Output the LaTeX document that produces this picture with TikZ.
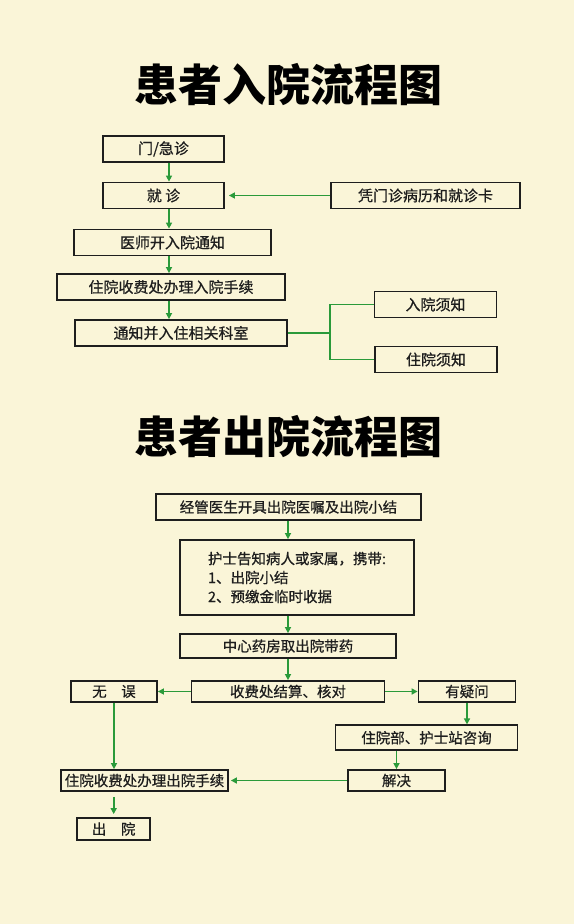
\documentclass[tikz,border=0pt]{standalone}
\usepackage{fontspec}
\setmainfont{Noto Sans CJK SC}
\newfontfamily\cuerpo{Noto Sans CJK SC}[FakeBold=0.7]
\usetikzlibrary{positioning,arrows.meta}
\definecolor{crema}{HTML}{FAF5D8}
\definecolor{verde}{HTML}{2A9A3A}
\definecolor{tinta}{HTML}{1E1E1E}

\begin{document}
\begin{tikzpicture}[x=1pt,y=-1pt,
      caja/.style={draw=tinta,line width=1.8pt,inner sep=0pt,text=tinta,
                   font=\cuerpo\fontsize{15}{19}\selectfont},
      caja2/.style={caja,font=\cuerpo\fontsize{14.5}{19}\selectfont},
      titulo/.style={font=\fontsize{44}{48}\selectfont\bfseries,text=black},
      fl/.style={-{Triangle[length=6pt,width=6pt]},line width=1.7pt,verde},
      ln/.style={line width=1.7pt,verde}]
    \fill[crema] (0,0) rectangle (574,924);
    \useasboundingbox (0,0) rectangle (574,924);
    \node[titulo] (t1) at (288,85) {患者入院流程图};
    \node[caja,minimum width=121pt,minimum height=26pt] (menzhen) at (163.5,149) {门/急诊};
    \node[caja,minimum width=121pt,minimum height=26pt] (jiuzhen) at (163.5,195.5) {就\ 诊};
    \node[caja,minimum width=189pt,minimum height=26pt] (ping) at (425.5,195.5) {凭门诊病历和就诊卡};
    \node[caja,minimum width=197pt,minimum height=26pt] (tongzhi) at (172.5,242.5) {医师开入院通知};
    \node[caja,minimum width=228pt,minimum height=26pt] (shouxu) at (171,287) {住院收费处办理入院手续};
    \node[caja,minimum width=212pt,minimum height=26pt] (keshi) at (181,333) {通知并入住相关科室};
    \node[caja,minimum width=122pt,minimum height=26pt] (ruxz) at (435.5,304.5) {入院须知};
    \node[caja,minimum width=122pt,minimum height=26pt] (zhuxz) at (436,359.5) {住院须知};
    \coordinate (eje) at (169,0);
    \coordinate (rama) at (330,333);
    \draw[fl] (menzhen.south -| eje) -- (jiuzhen.north -| eje);
    \draw[fl] (ping.west) -- ([xshift=4pt]jiuzhen.east);
    \draw[fl] (jiuzhen.south -| eje) -- (tongzhi.north -| eje);
    \draw[fl] (tongzhi.south -| eje) -- (shouxu.north -| eje);
    \draw[fl] (shouxu.south -| eje) -- (keshi.north -| eje);
    \draw[ln] (keshi.east) -- (rama);
    \draw[ln] (ruxz.west) -- (ruxz.west -| rama) -- (zhuxz.west -| rama) -- (zhuxz.west);

    \node[titulo] (t2) at (288,437) {患者出院流程图};
    \node[caja2,minimum width=265pt,minimum height=26pt] (yizhu) at (288.5,507) {经管医生开具出院医嘱及出院小结};
    \node[caja2,minimum width=234pt,minimum height=75pt,align=left] (hushi) at (297,577.5)
        {护士告知病人或家属，携带:\\1、出院小结\\2、预缴金临时收据};
    \node[caja2,minimum width=216pt,minimum height=24pt] (yaofang) at (288,646) {中心药房取出院带药};
    \node[caja2,minimum width=193pt,minimum height=21pt] (jiesuan) at (288,691.5) {收费处结算、核对};
    \node[caja2,minimum width=86pt,minimum height=21pt] (wuwu) at (114,691.5) {无\quad 误};
    \node[caja2,minimum width=97pt,minimum height=21pt] (yiwen) at (467,691.5) {有疑问};
    \node[caja2,minimum width=182pt,minimum height=25pt] (zixun) at (426.5,737.8) {住院部、护士站咨询};
    \node[caja2,minimum width=97pt,minimum height=21pt] (jiejue) at (396.5,780.5) {解决};
    \node[caja2,minimum width=167pt,minimum height=21pt] (banli) at (144.5,780.5) {住院收费处办理出院手续};
    \node[caja2,minimum width=73pt,minimum height=22pt] (chuyuan) at (113.7,829) {出\quad 院};
    \coordinate (eje2) at (288,0);
    \draw[fl] (yizhu.south -| eje2) -- (hushi.north -| eje2);
    \draw[fl] (hushi.south -| eje2) -- (yaofang.north -| eje2);
    \draw[fl] (yaofang.south -| eje2) -- (jiesuan.north -| eje2);
    \draw[fl] (jiesuan.west) -- (wuwu.east);
    \draw[fl] (jiesuan.east) -- (yiwen.west);
    \draw[fl] (yiwen.south) -- (zixun.north -| yiwen.south);
    \draw[fl] (zixun.south -| jiejue.north) -- (jiejue.north);
    \draw[fl] (jiejue.west) -- ([xshift=2pt]banli.east);
    \draw[fl] (wuwu.south) -- (banli.north -| wuwu.south);
    \draw[fl] ([yshift=-5pt]banli.south -| chuyuan.north) -- ([yshift=3pt]chuyuan.north);
  \end{tikzpicture}
\end{document}
